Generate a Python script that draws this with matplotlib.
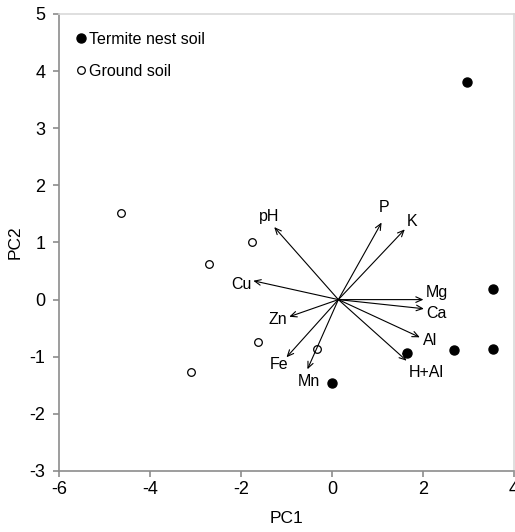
import matplotlib
matplotlib.use("Agg")
import matplotlib.pyplot as plt

plt.rcParams["font.family"] = ["Liberation Sans", "DejaVu Sans"]
plt.rcParams["axes.unicode_minus"] = False

# sample scores
termite_x = [2.97, 3.53, 3.53, 2.68, 1.64, 0.01]
termite_y = [3.81, 0.18, -0.86, -0.88, -0.94, -1.46]
ground_x = [-4.64, -1.76, -2.70, -1.62, -0.32, -3.10]
ground_y = [1.51, 1.01, 0.63, -0.74, -0.86, -1.27]

# loading vectors (origin + tips) and label positions
origin = (0.14, 0.0)
var_names = ["pH", "P", "K", "Cu", "Mg", "Ca", "Al", "H+Al", "Zn", "Fe", "Mn"]
tip_x = [-1.27, 1.09, 1.60, -1.73, 2.01, 2.02, 1.93, 1.64, -0.94, -1.00, -0.54]
tip_y = [1.27, 1.35, 1.23, 0.33, 0.0, -0.16, -0.66, -1.07, -0.30, -1.01, -1.22]
lab_x = [-1.38, 1.15, 1.76, -1.98, 2.31, 2.30, 2.15, 2.08, -1.18, -1.17, -0.50]
lab_y = [1.45, 1.62, 1.36, 0.27, 0.12, -0.24, -0.71, -1.28, -0.35, -1.13, -1.43]

fig = plt.figure(figsize=(5.15, 5.32), dpi=100)
ax = fig.add_axes([0.1146, 0.1147, 0.8834, 0.859])

ax.plot(termite_x, termite_y, "o", color="black", markersize=6.5, zorder=3)
ax.plot(ground_x, ground_y, "o", markerfacecolor="white", markeredgecolor="black",
        markeredgewidth=0.9, markersize=5.5, zorder=3)

for name, tx, ty, lx, ly in zip(var_names, tip_x, tip_y, lab_x, lab_y):
    ax.annotate("", xy=(tx, ty), xytext=origin,
                arrowprops=dict(arrowstyle="->,head_length=0.45,head_width=0.2",
                                color="black", lw=0.8, shrinkA=0, shrinkB=0))
    ax.text(lx, ly, name, fontsize=11.5, ha="center", va="center")

# legend drawn in data space like the original
ax.plot([-5.52], [4.58], "o", color="black", markersize=6.5)
ax.text(-5.35, 4.56, "Termite nest soil", fontsize=11.5, va="center", ha="left")
ax.plot([-5.52], [4.02], "o", markerfacecolor="white", markeredgecolor="black",
        markeredgewidth=0.9, markersize=5.5)
ax.text(-5.35, 4.0, "Ground soil", fontsize=11.5, va="center", ha="left")

ax.set_xlim(-6, 4)
ax.set_ylim(-3, 5)
ax.set_xticks(range(-6, 5, 2))
ax.set_yticks(range(-3, 6))
ax.tick_params(labelsize=13, direction="out", length=4, color="#8c8c8c", width=1.2)
ax.tick_params(axis="y", pad=6)
ax.set_xlabel("PC1", fontsize=12.5, labelpad=9)
ax.set_ylabel("PC2", fontsize=12.5, labelpad=5)

for side in ["left", "bottom"]:
    ax.spines[side].set_color("#8c8c8c")
    ax.spines[side].set_linewidth(1.2)
for side in ["top", "right"]:
    ax.spines[side].set_color("#d9d9d9")
    ax.spines[side].set_linewidth(1.2)

fig.savefig("out.png", dpi=100)
